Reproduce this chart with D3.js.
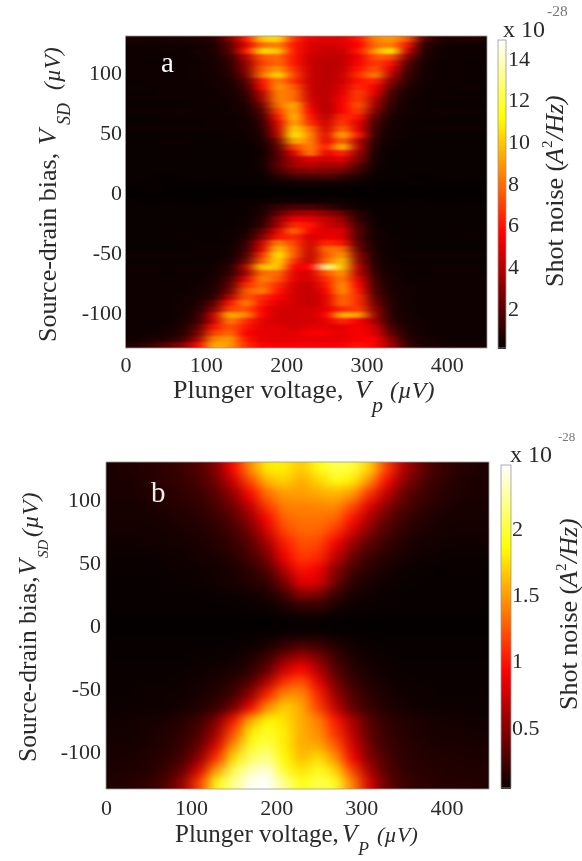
<!DOCTYPE html>
<html><head><meta charset="utf-8">
<script src="https://cdn.jsdelivr.net/npm/d3@7/dist/d3.min.js"></script>
<style>
html,body{margin:0;padding:0;background:#fff}
svg{display:block}
text{font-family:"Liberation Serif",serif;fill:#2a2a2a}
</style></head><body>
<svg id="c" width="582" height="861"></svg>
<script>
const plungerCenters=[10,30,50,70,90,110,130,150,170,190,210,230,250,270,290,310,330,350,370,390,410,430,450];
const biasRowsA=d3.range(127.5,-128,-5);
const biasRowsB=d3.range(125,-126,-10);
const xTicks=[0,100,200,300,400];
const yTicks=[100,50,0,-50,-100];
const barTicksA=[2,4,6,8,10,12,14];
const barTicksB=[0.5,1,1.5,2];
const hotStops=["#000000","#ff0000","#ffff00","#ffffff"];

const noiseA=[
[.6,.5,.6,.6,.7,.9,2.8,6,10,10.5,6.5,5.2,5,5,6,8.5,9,7.5,2,.8,.6,.9,.5],
[.3,.3,.3,.4,.4,.6,2,5,8,8.5,6,4.8,4.6,4.8,5.5,8,8.5,6,1,.5,.3,.3,.3],
[.3,.3,.4,.3,.5,.6,1.8,6,10.5,10,6,4.8,4.4,4.4,6,9,11,4.5,.9,.4,.3,.3,.3],
[.3,.3,.3,.3,.4,.5,1.2,4,7.5,8,6,4.4,4.2,4.2,5.2,7.5,7.5,3,.7,.4,.3,.3,.3],
[.3,.2,.3,.3,.3,.5,1,3.2,7,8,6,4.4,4,4.2,5.5,7,6,2,.6,.3,.3,.2,.3],
[.3,.3,.3,.3,.4,.5,.9,3,7.5,9,6.5,4.4,4,4.2,6,7.5,5,1.5,.5,.3,.3,.3,.2],
[.3,.3,.3,.3,.4,.4,.8,2.5,8,10.5,7,4.4,4,4.4,6.5,8.5,4,1.2,.5,.3,.3,.3,.3],
[.2,.3,.3,.3,.3,.4,.6,1.8,6,8.5,6.5,4.4,4,4.4,6,6.5,3,1,.4,.3,.3,.2,.3],
[.3,.3,.3,.3,.3,.4,.5,1.3,5.5,9,7.5,4.4,4,4.8,6.5,5.5,2.2,.7,.4,.3,.3,.3,.3],
[.2,.2,.3,.3,.3,.3,.5,1,4,8.5,8,4.4,4,5,7,5,1.5,.6,.3,.3,.2,.2,.2],
[.3,.3,.3,.3,.3,.4,.4,.8,3.5,8.5,8,4.6,4,5.4,7,4,1.2,.5,.3,.3,.3,.3,.3],
[.2,.2,.2,.2,.3,.3,.4,.6,2.5,8,9.5,5,3.8,5.5,7.5,3.5,1,.4,.3,.2,.2,.2,.2],
[.3,.3,.3,.4,.3,.3,.4,.5,1.8,7,9.5,5.5,3.8,5.5,7,2.8,.8,.4,.3,.4,.3,.3,.3],
[.2,.2,.3,.3,.3,.3,.3,.4,1.3,6,10,6,4,6.5,6,2,.6,.3,.3,.3,.2,.2,.2],
[.2,.2,.2,.2,.2,.3,.3,.4,1,5,9.5,6.5,4.5,7,5,1.5,.5,.3,.2,.2,.2,.2,.2],
[.3,.3,.3,.3,.3,.3,.3,.4,.8,4.5,10.5,8,4.5,8,5,1.2,.4,.3,.3,.3,.3,.3,.3],
[.2,.2,.2,.2,.2,.2,.3,.3,.7,4,11,8.5,5,9.5,6,1,.4,.3,.2,.2,.2,.2,.2],
[.2,.2,.3,.3,.2,.2,.2,.3,.5,2.5,9.5,8.5,5,8,4,.8,.3,.2,.2,.2,.2,.2,.2],
[.2,.2,.2,.2,.2,.2,.2,.2,.4,2,7,8.5,6,10,4,.6,.3,.2,.2,.2,.2,.2,.2],
[.2,.2,.2,.2,.2,.2,.2,.2,.3,1.8,5,8.5,5,6.5,3.4,.5,.2,.2,.2,.2,.2,.2,.2],
[.2,.2,.2,.2,.2,.2,.2,.2,.4,1.8,3.8,5,4.5,5,2.8,.5,.2,.2,.2,.2,.2,.2,.2],
[.2,.2,.2,.2,.2,.2,.2,.2,.4,2,3.6,4,3.6,3.8,2,.4,.2,.2,.2,.2,.2,.2,.2],
[.2,.2,.2,.2,.2,.2,.2,.2,.3,1.6,2.6,2.8,2.8,2.4,1.3,.3,.2,.2,.2,.2,.2,.2,.2],
[.2,.2,.1,.2,.2,.2,.2,.2,.2,.8,1.3,1.5,1.6,1.2,.6,.2,.2,.2,.1,.2,.2,.2,.2],
[.2,.1,.2,.1,.2,.1,.2,.2,.2,.3,.4,.5,.5,.4,.3,.2,.1,.2,.2,.1,.2,.1,.2],
[.1,.2,.1,.1,.1,.1,.1,.1,.1,.1,.1,.1,.1,.1,.1,.1,.1,.1,.1,.1,.1,.1,.1],
[.1,.1,.1,.1,.1,.1,.1,.1,.1,.1,.1,.1,.1,.1,.1,.1,.1,.1,.1,.1,.1,.1,.1],
[.2,.1,.2,.1,.1,.1,.2,.2,.2,.4,.4,.4,.4,.3,.2,.1,.1,.2,.2,.1,.1,.2,.1],
[.2,.2,.2,.2,.2,.2,.2,.2,.5,1.2,1.6,1.6,1.2,.7,.3,.2,.2,.2,.2,.2,.2,.2,.2],
[.2,.2,.2,.2,.2,.2,.2,.2,.6,2,3.4,3.6,3,2.2,.8,.2,.2,.2,.2,.2,.2,.2,.2],
[.2,.2,.2,.2,.2,.2,.2,.3,.8,3.2,5.2,5,4.2,3.4,1,.3,.2,.2,.2,.2,.2,.2,.2],
[.2,.2,.2,.2,.2,.2,.2,.3,1,3.5,6.5,6,4.5,4,1.4,.3,.2,.2,.2,.2,.2,.2,.2],
[.2,.2,.2,.2,.2,.2,.3,.5,2,5,8,5.5,4.8,5,1.8,.4,.2,.2,.2,.2,.2,.2,.2],
[.2,.2,.2,.3,.2,.2,.3,.7,2.8,6,6.5,4.6,5.2,5,1.6,.4,.3,.2,.2,.2,.2,.3,.2],
[.2,.2,.2,.2,.2,.2,.3,1,4.5,8.5,7,4.6,6.5,6,2,.5,.3,.2,.2,.2,.2,.2,.2],
[.2,.2,.2,.2,.3,.3,.4,1.2,5,10,7.5,4.2,8,8,2.2,.5,.3,.2,.2,.2,.2,.2,.2],
[.3,.3,.3,.3,.3,.3,.4,1.6,6.5,11,7.5,4.2,7.5,9,3,.6,.3,.3,.3,.3,.3,.3,.3],
[.2,.2,.2,.2,.2,.3,.5,2.3,7.5,10.5,6.5,4.2,8,10,3.2,.7,.3,.2,.2,.2,.2,.2,.2],
[.3,.3,.3,.3,.3,.4,.8,4,10,10,5.5,5.5,13.5,10,4,.8,.4,.3,.3,.3,.3,.3,.3],
[.3,.3,.2,.3,.3,.4,1,3.5,8,8,5,4.6,7.5,9,4,1,.4,.3,.2,.3,.3,.3,.2],
[.3,.3,.3,.3,.3,.5,1.6,5,8.5,7.5,5,4.6,6.5,8.5,5,1.2,.5,.3,.3,.3,.3,.3,.3],
[.3,.3,.3,.3,.4,.6,2,6.5,8,6.5,4.6,4.2,6,9,5.5,1.4,.5,.4,.3,.3,.3,.3,.3],
[.3,.3,.3,.3,.5,.7,2.5,7.5,8.5,6,4.6,4.2,5.5,9,6,1.6,.6,.4,.3,.3,.3,.3,.3],
[.3,.3,.3,.4,.5,1,4,7.5,6.5,5.5,4.6,4.2,5,8,6.5,2,.7,.4,.3,.3,.3,.3,.3],
[.3,.3,.3,.4,.6,2,6,8.5,6,5,4.6,4.2,5,8,6.5,2.5,.8,.4,.3,.3,.3,.3,.3],
[.3,.3,.3,.4,.8,2.8,7,7.5,5.5,4.6,4.6,4.6,5,6.5,7,3,.8,.4,.3,.3,.3,.3,.3],
[.3,.3,.3,.4,1,4.5,9.5,8.5,5.5,4.6,4.6,4.6,5.5,9.5,9,3.5,.9,.5,.3,.3,.3,.3,.3],
[.3,.3,.3,.5,1.2,4.5,8.5,6.5,5,4.6,4.6,4.6,5,6.5,5.5,3.5,1,.5,.4,.3,.3,.3,.3],
[.3,.3,.4,.6,2,6,7.5,6,5,5,4.6,5,5,5,5.5,4.5,1.5,.6,.4,.3,.3,.3,.3],
[.3,.4,.5,.8,2.5,7,8,5.5,5,5,5,5.5,5.5,5,5.5,4.8,2,.7,.4,.3,.3,.3,.3],
[.4,.5,.7,1.3,3.5,8.5,9,6,5,5,5,5,5,5,5.5,5.5,3,.9,.5,.4,.3,.3,.3],
[.7,1.2,2,3,5.5,9.5,9,6.5,5.5,5.5,5.5,5.5,5.5,5.5,6,5.5,3.5,1.2,.6,.5,.4,.4,.4]
];

const noiseB=[
[.1,.12,.14,.17,.22,.3,.48,.95,1.45,1.8,1.8,1.65,1.9,2.05,2,1.7,1.15,.65,.38,.22,.16,.12,.1],
[.1,.1,.13,.16,.2,.26,.42,.75,1.2,1.6,1.7,1.55,1.7,1.9,1.8,1.45,.95,.52,.3,.2,.14,.1,.1],
[.1,.1,.12,.14,.18,.22,.32,.55,.95,1.35,1.5,1.5,1.55,1.6,1.5,1.1,.7,.38,.24,.16,.12,.1,.1],
[.08,.08,.1,.12,.15,.18,.26,.42,.72,1.15,1.4,1.4,1.42,1.45,1.2,.82,.5,.3,.2,.13,.1,.08,.08],
[.08,.08,.08,.1,.12,.15,.2,.32,.55,.95,1.3,1.35,1.35,1.3,.98,.62,.36,.22,.15,.1,.08,.08,.08],
[.07,.07,.07,.08,.1,.12,.16,.24,.42,.8,1.18,1.3,1.3,1.12,.8,.46,.28,.17,.11,.08,.07,.07,.07],
[.06,.06,.07,.07,.08,.1,.13,.2,.32,.6,1.02,1.22,1.18,.9,.55,.32,.2,.12,.08,.07,.06,.06,.06],
[.04,.04,.04,.05,.06,.08,.1,.15,.25,.45,.9,1.15,1.08,.72,.38,.22,.14,.09,.06,.05,.04,.04,.04],
[.03,.03,.03,.04,.05,.06,.07,.1,.16,.3,.68,1,.9,.5,.26,.15,.09,.05,.04,.03,.03,.03,.03],
[.03,.03,.03,.03,.04,.05,.07,.1,.14,.2,.45,.85,.8,.4,.16,.1,.06,.04,.03,.03,.03,.03,.03],
[.03,.03,.03,.03,.03,.03,.04,.05,.06,.1,.25,.5,.46,.2,.1,.06,.04,.03,.03,.03,.03,.03,.03],
[.03,.03,.03,.03,.03,.03,.03,.03,.04,.05,.1,.18,.18,.09,.05,.04,.03,.03,.03,.03,.03,.03,.03],
[.02,.02,.02,.02,.02,.02,.02,.02,.02,.02,.02,.03,.03,.02,.02,.02,.02,.02,.02,.02,.02,.02,.02],
[.02,.02,.02,.02,.02,.02,.02,.02,.02,.02,.03,.03,.03,.02,.02,.02,.02,.02,.02,.02,.02,.02,.02],
[.03,.03,.03,.03,.03,.03,.03,.03,.04,.08,.18,.25,.22,.12,.06,.04,.03,.03,.03,.03,.03,.03,.03],
[.03,.03,.03,.03,.03,.04,.04,.06,.1,.22,.45,.62,.45,.22,.1,.06,.04,.03,.03,.03,.03,.03,.03],
[.04,.04,.04,.04,.04,.05,.07,.1,.16,.36,.75,.95,.65,.3,.15,.09,.05,.04,.04,.04,.04,.04,.04],
[.04,.04,.04,.04,.05,.07,.1,.16,.3,.65,1.1,1.25,.85,.42,.2,.12,.07,.05,.04,.04,.04,.04,.04],
[.04,.04,.05,.06,.06,.09,.14,.24,.52,1.05,1.45,1.45,1.05,.55,.27,.16,.1,.06,.05,.04,.04,.04,.04],
[.05,.05,.05,.06,.08,.12,.2,.42,.9,1.45,1.7,1.55,1.15,.7,.35,.2,.12,.08,.06,.05,.05,.05,.05],
[.06,.07,.08,.1,.14,.22,.45,.98,1.55,1.85,1.75,1.55,1.4,1,.6,.3,.18,.12,.1,.08,.07,.06,.06],
[.07,.07,.09,.12,.17,.28,.6,1.2,1.8,1.95,1.8,1.55,1.45,1.1,.68,.33,.2,.14,.1,.09,.08,.07,.07],
[.08,.08,.1,.14,.2,.36,.8,1.45,1.95,2.05,1.8,1.55,1.55,1.25,.78,.38,.22,.16,.12,.1,.1,.09,.09],
[.09,.1,.12,.16,.26,.52,1.08,1.75,2.1,2.2,1.85,1.6,1.75,1.45,.9,.46,.26,.17,.14,.12,.11,.1,.1],
[.1,.11,.13,.2,.36,.8,1.5,2.05,2.3,2.4,1.95,1.75,1.95,1.7,1.15,.6,.3,.18,.15,.13,.12,.12,.12],
[.12,.14,.18,.28,.55,1.15,1.9,2.2,2.45,2.48,2.2,1.9,2.05,1.95,1.4,.78,.36,.22,.16,.14,.13,.13,.12]
];

const svg=d3.select("#c");
const defs=svg.append("defs");
const tb=defs.append("filter").attr("id","soft").attr("filterUnits","userSpaceOnUse")
  .attr("x",0).attr("y",0).attr("width",582).attr("height",861);
tb.append("feGaussianBlur").attr("stdDeviation",0.45);

function panel(o){
  const x=d3.scaleLinear().domain([0,450]).range([o.l,o.r]);
  const y=d3.scaleLinear().domain([130,-130]).range([o.t,o.b]);
  const color=d3.scaleLinear().domain([0,.375,.75,1].map(f=>f*o.cmax)).range(hotStops).clamp(true);
  const f=defs.append("filter").attr("id","blur"+o.id).attr("filterUnits","userSpaceOnUse")
    .attr("x",o.l-60).attr("y",o.t-60).attr("width",o.r-o.l+120).attr("height",o.b-o.t+120)
    .attr("color-interpolation-filters","sRGB");
  f.append("feGaussianBlur").attr("stdDeviation",o.sd);
  defs.append("clipPath").attr("id","clip"+o.id).append("rect")
    .attr("x",o.l).attr("y",o.t).attr("width",o.r-o.l).attr("height",o.b-o.t);
  const cells=[];
  o.rows.forEach((v,i)=>plungerCenters.forEach((c,j)=>cells.push({v,c,i,j,z:o.data[i][j]})));
  const hx=10,hy=o.step/2,nr=o.rows.length,nc=plungerCenters.length;
  svg.append("g").attr("clip-path",`url(#clip${o.id})`).append("g").attr("filter",`url(#blur${o.id})`)
    .attr("shape-rendering","crispEdges")
    .selectAll("rect").data(cells).join("rect")
    .attr("x",d=>x(d.j===0?-80:d.c-hx))
    .attr("width",d=>x(d.j===nc-1?540:d.c+hx)-x(d.j===0?-80:d.c-hx))
    .attr("y",d=>y(d.i===0?170:d.v+hy))
    .attr("height",d=>y(d.i===nr-1?-170:d.v-hy)-y(d.i===0?170:d.v+hy))
    .attr("fill",d=>color(d.z));
  svg.append("rect").attr("x",o.l).attr("y",o.t).attr("width",o.r-o.l).attr("height",o.b-o.t)
    .attr("fill","none").attr("stroke","#999").attr("stroke-width",.8);
  const tg=svg.append("g").attr("filter","url(#soft)");
  const ax=d3.axisBottom(x).tickValues(xTicks).tickSize(0).tickPadding(0);
  const gx=tg.append("g").attr("transform",`translate(0,${o.xtickY})`).call(ax);
  gx.select(".domain").remove();
  gx.selectAll("text").attr("font-size",o.fs).attr("dy",0).attr("y",0);
  const ay=d3.axisLeft(y).tickValues(yTicks).tickSize(0).tickPadding(0).tickFormat(d=>String(d));
  const gy=tg.append("g").attr("transform",`translate(${o.ytickX},0)`).call(ay);
  gy.select(".domain").remove();
  gy.selectAll("text").attr("font-size",o.fs).attr("x",0);
  const yb=d3.scaleLinear().domain(o.bDomain).range(o.bRange);
  const lev=d3.range(o.bRange[0],o.bRange[1]-1,-1).map(p=>yb.invert(p));
  svg.append("g").attr("shape-rendering","crispEdges").selectAll("rect").data(lev).join("rect")
    .attr("x",o.bl).attr("width",o.br-o.bl).attr("y",d=>yb(d)-1).attr("height",1.5)
    .attr("fill",d=>color(d));
  svg.append("rect").attr("x",o.bl).attr("y",o.bRange[1]).attr("width",o.br-o.bl).attr("height",o.bRange[0]-o.bRange[1])
    .attr("fill","none").attr("stroke","#999").attr("stroke-width",.8);
  const ab=d3.axisRight(yb).tickValues(o.bTicks).tickSize(0).tickPadding(0).tickFormat(d=>String(d));
  const gb=tg.append("g").attr("transform",`translate(${o.br},0)`).call(ab);
  gb.select(".domain").remove();
  gb.selectAll("line").attr("x1",0).attr("x2",-2.5).attr("stroke","#333");
  gb.selectAll("text").attr("font-size",o.fs).attr("x",o.bTickGap);
  gb.selectAll("g.tick").append("line").attr("x1",-(o.br-o.bl)).attr("x2",-(o.br-o.bl)+2.5).attr("stroke","#333");
  return tg;
}
const txt=(g,s,x,y,fs,extra={})=>{
  const t=g.append("text").attr("x",x).attr("y",y).attr("font-size",fs).text(s);
  for(const k in extra) t.attr(k,extra[k]);
  return t;
};
function vert(g,cx,cy,parts){
  const r=g.append("g").attr("transform",`translate(${cx},${cy}) rotate(-90)`);
  parts.forEach(p=>{
    const t=r.append("text").attr("x",p[1]).attr("y",p[2]).attr("font-size",p[3]).text(p[0]);
    if(p[4]) t.attr("font-style","italic");
  });
}

const ga=panel({id:"a",l:125.5,r:487,t:36,b:348,cmax:14.9,rows:biasRowsA,data:noiseA,step:5,sd:"6.5 1.3",
  xtickY:372,ytickX:122,fs:22,bl:498,br:506,bRange:[348,40],bDomain:[.08,14.87],bTicks:barTicksA,bTickGap:2});
txt(svg,"a",161,72,29,{style:"fill:#fff"}).attr("filter","url(#soft)");
txt(ga,"Plunger voltage,",173,398,26);
txt(ga,"V",355,398,26,{"font-style":"italic"});
txt(ga,"p",372,412,22,{"font-style":"italic"});
txt(ga,"(µV)",390,398,24,{"font-style":"italic"});
txt(ga,"x 10",503,37,24);
txt(ga,"-28",547,16,15.5,{style:"fill:#777"});
vert(ga,56,342,[["Source-drain bias,",0,0,26,false],["V",197,0,26,true],["SD",217,14,18,true],["(µV)",252,4,23,true]]);
vert(ga,563,287,[["Shot noise (",0,0,26,false],["A",123,0,26,true],["2",139,-11,15,false],["/Hz)",147,0,26,true]]);

const gb=panel({id:"b",l:106,r:489,t:462,b:789,cmax:2.48,rows:biasRowsB,data:noiseB,step:10,sd:"7 5",
  xtickY:815,ytickX:101,fs:22,bl:501,br:511,bRange:[788,465],bDomain:[.04,2.48],bTicks:barTicksB,bTickGap:1});
txt(svg,"b",151,502,29,{style:"fill:#eee"}).attr("filter","url(#soft)");
txt(gb,"Plunger voltage,",175,842,25);
txt(gb,"V",342,842,25,{"font-style":"italic"});
txt(gb,"P",358,855,18,{"font-style":"italic"});
txt(gb,"(µV)",377,842,22,{"font-style":"italic"});
txt(gb,"x 10",510,462,24);
txt(gb,"-28",558,441,13,{style:"fill:#777"});
vert(gb,36,762,[["Source-drain bias,",0,0,25.5,false],["V",187,0,25.5,true],["SD",204,12,15,true],["(µV)",225,2,24,true]]);
vert(gb,577,710,[["Shot noise (",0,0,26,false],["A",123,0,26,true],["2",139,-11,15,false],["/Hz)",147,0,26,true]]);
</script>
</body></html>
